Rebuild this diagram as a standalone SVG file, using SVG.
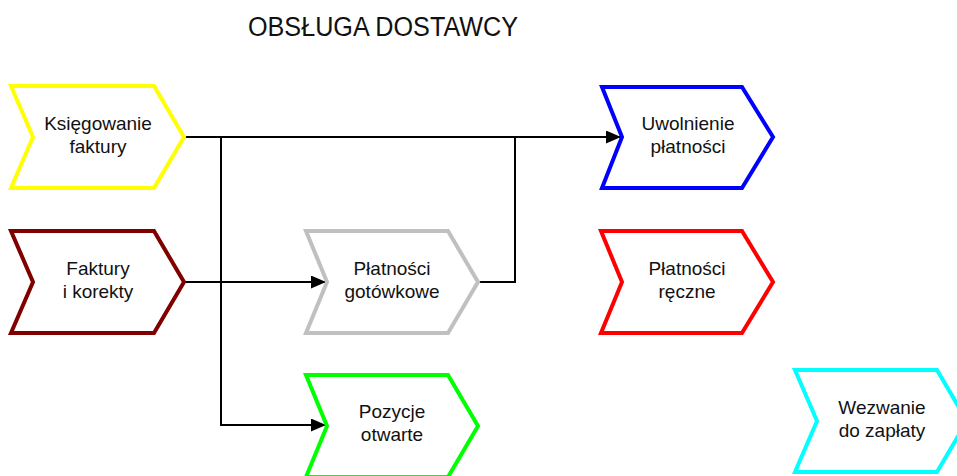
<svg xmlns="http://www.w3.org/2000/svg" width="957" height="476" viewBox="0 0 957 476">
<style>
.ch{fill:#fff;stroke-width:4;stroke-linejoin:miter}
.t{font-family:"Liberation Sans",Arial,sans-serif;font-size:19px;fill:#111;text-anchor:middle}
.c{fill:none;stroke:#000;stroke-width:2}
</style>
<defs>
<marker id="ah" markerWidth="15" markerHeight="13" refX="15" refY="6.5" orient="auto" markerUnits="userSpaceOnUse">
<path d="M0,0 L15,6.5 L0,13 Z" fill="#000"/>
</marker>
</defs>
<rect width="957" height="476" fill="#fff"/>
<text x="383" y="36" font-family="'Liberation Sans',Arial,sans-serif" font-size="27" fill="#111" text-anchor="middle" textLength="270" lengthAdjust="spacingAndGlyphs">OBSŁUGA DOSTAWCY</text>
<g id="connectors">
<path class="c" d="M184,137 H621" marker-end="url(#ah)"/>
<path class="c" d="M221,137 V425 H326" marker-end="url(#ah)"/>
<path class="c" d="M184,282 H326" marker-end="url(#ah)"/>
<path class="c" d="M478,282 H515 V137"/>
</g>
<g id="ksiegowanie">
<polygon class="ch" stroke="#FFFF00" points="11,86 154,86 184,137 154,188 11,188 33,137"/>
<text class="t" x="98" y="130">Księgowanie</text>
<text class="t" x="98" y="153">faktury</text>
</g>
<g id="faktury">
<polygon class="ch" stroke="#800000" points="11,231 154,231 184,282 154,333 11,333 33,282"/>
<text class="t" x="98" y="275">Faktury</text>
<text class="t" x="98" y="298">i korekty</text>
</g>
<g id="gotowkowe">
<polygon class="ch" stroke="#C0C0C0" points="306,231 448,231 478,282 448,333 306,333 327,282"/>
<text class="t" x="392" y="275">Płatności</text>
<text class="t" x="392" y="298">gotówkowe</text>
</g>
<g id="pozycje">
<polygon class="ch" stroke="#00FF00" points="306,375 448,375 478,426 448,477 306,477 327,426"/>
<text class="t" x="392" y="418">Pozycje</text>
<text class="t" x="392" y="441">otwarte</text>
</g>
<g id="uwolnienie">
<polygon class="ch" stroke="#0000FF" points="602,87 742,87 773,137 742,188 602,188 622,137"/>
<text class="t" x="688" y="130">Uwolnienie</text>
<text class="t" x="688" y="153">płatności</text>
</g>
<g id="reczne">
<polygon class="ch" stroke="#FF0000" points="601,231 742,231 773,282 742,333 601,333 622,282"/>
<text class="t" x="687" y="275">Płatności</text>
<text class="t" x="687" y="298">ręczne</text>
</g>
<g id="wezwanie">
<polygon class="ch" stroke="#00FFFF" points="795,370 937,370 967,421 937,472 795,472 817,421"/>
<text class="t" x="882" y="414">Wezwanie</text>
<text class="t" x="882" y="437">do zapłaty</text>
</g>
</svg>
